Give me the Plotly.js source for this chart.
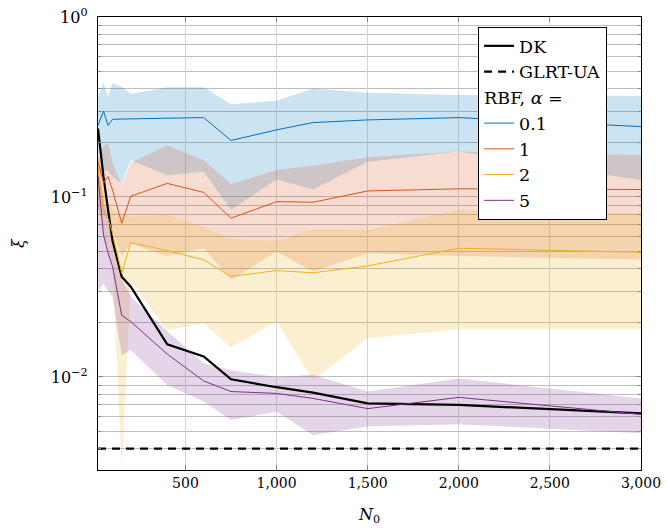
<!DOCTYPE html>
<html>
<head>
<meta charset="utf-8">
<script src="https://cdn.plot.ly/plotly-3.0.1.min.js"></script>
<style>body{margin:0;padding:0;background:#fff}#chart{width:667px;height:529px}</style>
</head>
<body>
<div id="chart"></div>
<script>
// Training-set size N0
const N = [20, 50, 75, 100, 150, 200, 400, 600, 750, 1000, 1200, 1500, 2000, 3000];

// DK (deep kernel) mean
const dk = [0.24, 0.13, 0.085, 0.057, 0.0361, 0.0317, 0.0152, 0.013, 0.0097, 0.00877, 0.00818, 0.00714, 0.00699, 0.00628];

// GLRT-UA baseline
const glrtN = [20, 3000];
const glrt = [0.004, 0.004];

// RBF, alpha = 0.1
const rbf01 = [0.25, 0.30, 0.25, 0.27, 0.271, 0.272, 0.274, 0.276, 0.206, 0.236, 0.259, 0.268, 0.276, 0.246];
const rbf01Hi = [0.36, 0.43, 0.36, 0.43, 0.41, 0.373, 0.407, 0.407, 0.327, 0.343, 0.40, 0.38, 0.369, 0.364];
const rbf01Lo = [0.13, 0.14, 0.14, 0.13, 0.118, 0.16, 0.132, 0.138, 0.085, 0.125, 0.11, 0.157, 0.179, 0.124];

// RBF, alpha = 1
const rbf1 = [0.157, 0.12, 0.13, 0.109, 0.0714, 0.101, 0.119, 0.106, 0.0762, 0.0942, 0.0935, 0.108, 0.111, 0.110];
const rbf1Hi = [0.16, 0.19, 0.2, 0.155, 0.116, 0.155, 0.194, 0.16, 0.118, 0.141, 0.149, 0.166, 0.179, 0.171];
const rbf1Lo = [0.085, 0.08, 0.075, 0.065, 0.047, 0.055, 0.047, 0.0519, 0.0346, 0.0497, 0.0385, 0.0487, 0.047, 0.045];

// RBF, alpha = 2
const rbf2 = [0.145, 0.085, 0.076, 0.063, 0.0377, 0.0558, 0.0504, 0.0447, 0.0362, 0.039, 0.0379, 0.0414, 0.0519, 0.0493];
const rbf2Hi = [0.17, 0.11, 0.095, 0.085, 0.08, 0.078, 0.0794, 0.0684, 0.0582, 0.0569, 0.0664, 0.0656, 0.0847, 0.081];
const rbf2Lo = [0.09, 0.06, 0.05, 0.04, 0.0031, 0.034, 0.0182, 0.0199, 0.0146, 0.0203, 0.0096, 0.0164, 0.0184, 0.0184];

// RBF, alpha = 5
const rbf5 = [0.13, 0.0616, 0.0488, 0.041, 0.022, 0.0203, 0.0134, 0.0095, 0.0083, 0.0081, 0.0076, 0.00667, 0.0077, 0.0062];
const rbf5Hi = [0.15, 0.095, 0.075, 0.06, 0.035, 0.028, 0.018, 0.0119, 0.0109, 0.01, 0.0103, 0.0083, 0.0098, 0.0076];
const rbf5Lo = [0.03, 0.033, 0.03, 0.028, 0.0132, 0.0141, 0.009, 0.0073, 0.00577, 0.0064, 0.00476, 0.0053, 0.00546, 0.00486];

// Tick labels
const yTickVals = [1, 0.1, 0.01];
const yTickText = ['10<sup>0</sup>', '10<sup>−1</sup>', '10<sup>−2</sup>'];
const xTickVals = [500, 1000, 1500, 2000, 2500, 3000];
const xTickText = ['500', '1,000', '1,500', '2,000', '2,500', '3,000'];

const alphaLabels = ['0.1', '1', '2', '5'];
const colors = ['#0072BD', '#D95319', '#EDB120', '#7E2F8E'];
const fills = ['rgba(0,114,189,0.2)', 'rgba(217,83,25,0.2)', 'rgba(237,177,32,0.2)', 'rgba(126,47,142,0.2)'];
const means = [rbf01, rbf1, rbf2, rbf5];
const his = [rbf01Hi, rbf1Hi, rbf2Hi, rbf5Hi];
const los = [rbf01Lo, rbf1Lo, rbf2Lo, rbf5Lo];

const font = 'DejaVu Serif';

const traces = [];
for (let i = 0; i < 4; i++) {
  traces.push({x: N, y: los[i], type: 'scatter', mode: 'lines', line: {width: 0, color: fills[i]},
    showlegend: false, hoverinfo: 'skip'});
  traces.push({x: N, y: his[i], type: 'scatter', mode: 'lines', line: {width: 0, color: fills[i]},
    fill: 'tonexty', fillcolor: fills[i], showlegend: false, hoverinfo: 'skip'});
}
traces.push({x: N, y: dk, type: 'scatter', mode: 'lines', name: 'DK', line: {color: '#000', width: 2.2}});
traces.push({x: glrtN, y: glrt, type: 'scatter', mode: 'lines', name: 'GLRT-UA', line: {color: '#000', width: 2.2, dash: '8px,6px'}});
for (let i = 0; i < 4; i++) {
  traces.push({x: N, y: means[i], type: 'scatter', mode: 'lines', name: alphaLabels[i],
    legendgroup: 'rbf', legendgrouptitle: {text: 'RBF, <i>α</i> =', font: {family: font, size: 17.5}},
    line: {color: colors[i], width: 1}});
}

const layout = {
  width: 667, height: 529,
  margin: {l: 98, r: 26, t: 17, b: 59},
  paper_bgcolor: '#fff', plot_bgcolor: '#fff',
  font: {family: font, size: 15, color: '#000'},
  showlegend: true,
  xaxis: {
    range: [20, 3000], tickmode: 'array', tickvals: xTickVals, ticktext: xTickText,
    ticks: 'inside', ticklen: 5, tickcolor: '#888', mirror: 'allticks',
    showline: true, linecolor: '#000', linewidth: 1.2,
    showgrid: true, gridcolor: '#d4d4d4', gridwidth: 1, zeroline: false,
    tickfont: {family: font, size: 14},
    title: {text: '<i>N</i><sub>0</sub>', font: {family: font, size: 16}, standoff: 18}
  },
  yaxis: {
    type: 'log', range: [-2.517, 0], tickmode: 'array', tickvals: yTickVals, ticktext: yTickText,
    ticks: 'inside', ticklen: 5, tickcolor: '#888', mirror: 'allticks',
    showline: true, linecolor: '#000', linewidth: 1.2,
    showgrid: true, gridcolor: '#bdbdbd', gridwidth: 1, zeroline: false,
    minor: {dtick: 'D1', showgrid: true, gridcolor: '#bdbdbd', gridwidth: 1, ticks: 'inside', ticklen: 3, tickcolor: '#888'},
    tickfont: {family: font, size: 16}, ticklabelstandoff: 6,
    title: {text: '<i>ξ</i>', font: {family: font, size: 16}, standoff: 22}
  },
  legend: {
    x: 0.70, y: 0.978, xanchor: 'left', yanchor: 'top',
    bgcolor: '#fff', bordercolor: '#000', borderwidth: 1,
    font: {family: font, size: 17.5}, tracegroupgap: 0, traceorder: 'grouped'
  }
};

Plotly.newPlot('chart', traces, layout, {displayModeBar: false, staticPlot: true});
</script>
</body>
</html>
